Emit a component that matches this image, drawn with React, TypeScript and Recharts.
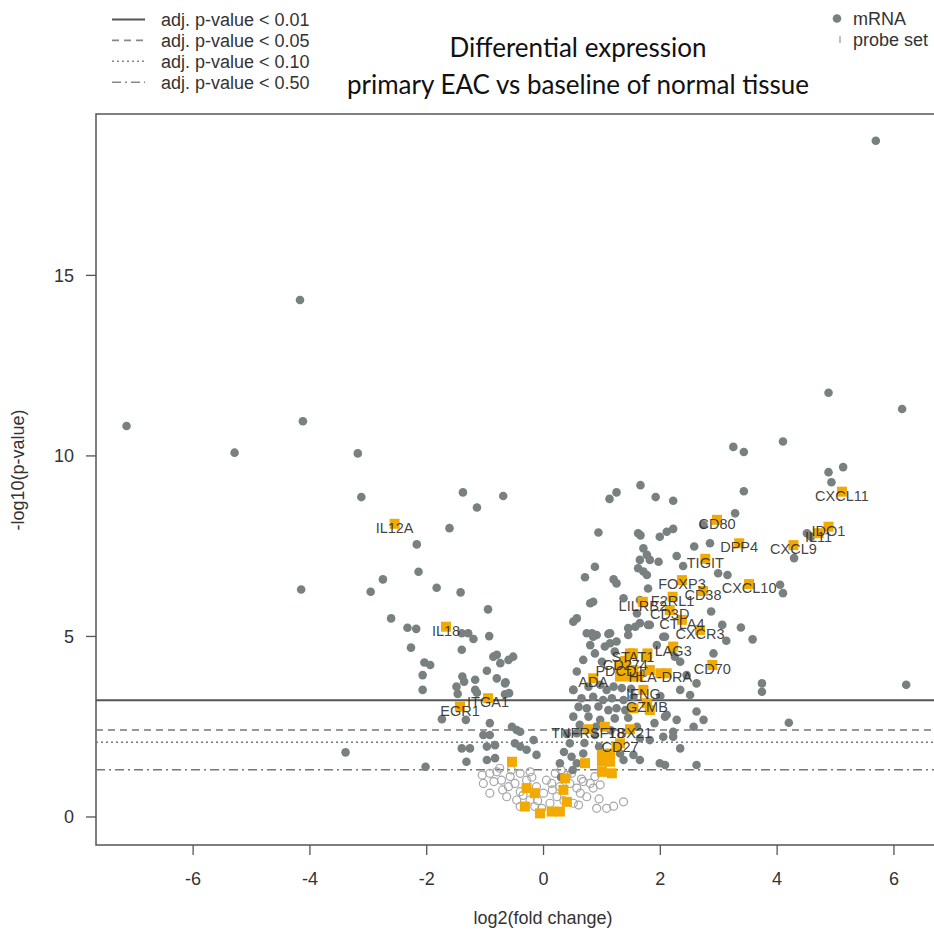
import React from "react";
import {
  ScatterChart,
  Scatter,
  XAxis,
  YAxis,
  ReferenceLine,
  ReferenceArea,
} from "recharts";

// filled grey dots: [log2 fold change, -log10 p]
const mrnaPoints: [number, number][] = [
  [5.69, 18.73], [-4.17, 14.32], [4.88, 11.75], [6.14, 11.3], [-4.12, 10.96], [-7.14, 10.83],
  [4.1, 10.4], [3.25, 10.25], [3.43, 10.11], [-5.29, 10.09], [-3.18, 10.07], [5.13, 9.69],
  [4.88, 9.55], [4.93, 9.27], [1.66, 9.19], [3.43, 9.02], [1.25, 8.99], [-1.38, 8.99],
  [-0.69, 8.89], [-3.12, 8.86], [1.92, 8.86], [1.13, 8.81], [2.22, 8.76], [-1.14, 8.57],
  [3.28, 8.41], [2.74, 8.09], [-1.61, 8.0], [0.94, 7.88], [1.62, 7.86], [1.66, 7.8],
  [2.11, 7.9], [2.22, 7.98], [1.99, 7.76], [4.51, 7.86], [4.58, 7.76], [-2.17, 7.55],
  [2.85, 7.58], [2.58, 7.49], [1.71, 7.44], [1.77, 7.26], [2.28, 7.23], [4.29, 7.17],
  [1.65, 7.12], [1.82, 7.12], [1.97, 7.07], [2.39, 6.95], [0.88, 6.93], [1.62, 6.89],
  [1.71, 6.8], [2.99, 6.75], [3.15, 6.7], [1.77, 6.7], [-2.14, 6.79], [0.71, 6.64],
  [1.2, 6.58], [-2.75, 6.58], [1.25, 6.47], [4.05, 6.43], [-1.83, 6.35], [1.79, 6.33],
  [-4.15, 6.3], [-2.96, 6.24], [-1.42, 6.22], [4.1, 6.2], [1.37, 6.06], [1.65, 6.01],
  [0.85, 5.96], [0.8, 5.92], [-0.95, 5.75], [2.87, 5.69], [1.6, 5.64], [0.57, 5.5],
  [-2.61, 5.5], [3.06, 5.32], [1.79, 5.32], [3.38, 5.25], [-2.33, 5.24], [1.45, 5.23],
  [-2.18, 5.21], [0.83, 5.09], [1.14, 5.09], [-1.4, 5.09], [-1.29, 5.09], [0.85, 4.99],
  [2.08, 4.99], [-0.93, 5.01], [-1.2, 4.93], [3.58, 4.92], [3.13, 4.88], [-2.27, 4.69],
  [-1.4, 4.63], [2.91, 4.53], [-0.86, 4.44], [-0.8, 4.49], [-0.52, 4.44], [-0.6, 4.35],
  [-2.04, 4.28], [-1.94, 4.21], [-0.74, 4.26], [-0.97, 4.05], [0.57, 4.03], [-2.07, 3.93],
  [-1.39, 3.89], [-0.8, 3.84], [-1.17, 3.8], [-1.36, 3.75], [-0.65, 3.73], [-0.66, 3.7],
  [3.74, 3.7], [6.21, 3.66], [-1.49, 3.61], [-2.07, 3.52], [-1.17, 3.52], [0.51, 3.52],
  [3.74, 3.47], [-1.14, 3.44], [-1.47, 3.41], [-0.59, 3.43], [-0.66, 3.4], [-1.74, 2.71],
  [-1.33, 2.69], [-0.92, 2.6], [4.2, 2.61], [-0.54, 2.5], [-0.46, 2.41], [-0.4, 2.36],
  [-1.03, 2.27], [-0.92, 2.27], [-0.17, 2.13], [-0.49, 2.04], [-0.97, 1.95], [-0.83, 1.99],
  [-0.4, 1.95], [-1.4, 1.9], [-1.26, 1.9], [-0.29, 1.86], [-3.39, 1.79], [-0.12, 1.72],
  [-0.83, 1.63], [-0.97, 1.58], [-1.32, 1.53], [-2.02, 1.39],
  // dense centre
  [0.51, 5.41], [0.74, 5.09], [0.91, 5.04], [1.11, 5.07], [0.8, 4.76], [1.05, 4.72],
  [1.14, 4.81], [1.25, 4.86], [1.45, 5.04], [1.57, 5.27], [1.65, 5.37], [1.82, 5.32],
  [2.05, 4.99], [1.94, 4.76], [2.2, 4.63], [2.34, 4.3], [2.25, 4.44], [0.88, 4.53],
  [0.68, 4.35], [1.0, 4.3], [1.22, 4.58], [0.51, 3.52], [0.77, 3.61], [0.97, 3.66],
  [1.08, 3.52], [1.2, 3.61], [1.34, 3.57], [0.65, 3.29], [0.85, 3.33], [1.02, 3.24],
  [1.17, 3.29], [1.37, 3.24], [1.54, 3.33], [0.74, 3.01], [0.94, 3.06], [1.11, 2.96],
  [1.25, 3.01], [1.4, 2.96], [0.51, 2.78], [0.77, 2.78], [0.97, 2.69], [1.22, 2.73],
  [2.11, 2.83], [2.28, 2.69], [2.62, 2.92], [2.74, 2.69], [2.57, 2.5], [0.57, 2.32],
  [0.88, 2.27], [0.45, 2.04], [0.48, 1.67], [0.68, 1.76], [0.28, 1.49], [0.57, 1.49],
  [1.31, 1.76], [1.37, 1.58], [1.54, 1.72], [1.65, 2.18], [1.82, 2.13], [2.05, 2.22],
  [2.22, 2.22], [2.62, 1.44], [2.34, 1.9], [1.99, 1.49], [1.71, 3.98], [2.34, 3.52],
  [2.62, 3.7], [2.45, 3.93], [2.51, 3.38], [2.08, 2.78], [2.08, 1.44], [1.65, 1.58],
  [2.22, 2.36], [0.62, 2.55], [0.9, 2.5], [1.15, 2.4], [0.4, 2.3], [0.7, 2.05],
  [0.95, 1.95], [0.35, 1.8], [1.6, 2.5], [1.9, 2.6], [1.45, 2.75], [0.3, 1.1],
  [0.5, 1.3], [1.5, 3.55], [2.0, 3.35], [0.6, 3.05],
];

// open circles (not significant)
const openPoints: [number, number][] = [
  [-1.05, 1.16], [-0.92, 1.21], [-0.8, 1.25], [-1.03, 0.93], [-0.72, 1.02], [-0.57, 1.12],
  [-0.4, 1.21], [-0.23, 1.25], [-0.92, 0.66], [-0.6, 0.84], [-0.49, 0.93], [-0.4, 0.7],
  [-0.29, 1.02], [-0.63, 0.56], [-0.46, 0.47], [-0.23, 0.47], [-0.4, 0.29], [-0.15, 0.29],
  [-0.03, 0.24], [0.11, 0.38], [0.23, 0.56], [0.28, 0.84], [0.14, 0.93], [0.45, 0.93],
  [0.57, 0.8], [0.68, 0.98], [0.8, 0.93], [0.88, 1.12], [0.97, 0.89], [0.63, 0.66],
  [0.74, 0.56], [0.51, 0.38], [0.6, 0.33], [0.91, 0.24], [1.08, 0.24], [1.37, 0.42],
  [0.05, 1.02], [0.0, 0.66], [0.48, 1.21], [0.2, 1.21], [0.85, 0.8], [-0.12, 0.84],
  [-0.85, 0.98], [-0.7, 0.75], [-0.35, 0.6], [-0.55, 1.3], [0.35, 0.45], [0.65, 1.05],
  [0.15, 0.75], [-0.2, 1.1], [0.4, 1.15], [1.2, 0.3], [-0.75, 1.35], [0.3, 1.3],
  [0.95, 0.5], [-0.1, 0.45],
];

// orange squares without a label
const setPoints: [number, number][] = [
  [-0.54, 1.53], [0.71, 1.49], [1.0, 1.53], [1.14, 1.53], [1.0, 1.25], [1.17, 1.21],
  [0.37, 1.07], [-0.29, 0.8], [-0.15, 0.66], [0.34, 0.75], [0.4, 0.42], [-0.32, 0.29],
  [-0.06, 0.1], [0.14, 0.15], [0.28, 0.15], [1.25, 1.95], [1.14, 1.76], [1.0, 1.72],
  [1.05, 2.5], [1.82, 2.96], [1.54, 3.01], [1.42, 4.16], [1.54, 4.07], [1.82, 4.07],
  [2.11, 3.98], [1.31, 3.89], [1.48, 3.89], [1.62, 3.89], [1.48, 4.53], [1.77, 4.44],
  [1.78, 4.53],
];

// labelled genes
const geneNames = [
  "IL12A", "IL18", "ITGA1", "EGR1", "CXCL11", "CD80", "IDO1", "IL11", "CXCL9", "DPP4",
  "TIGIT", "FOXP3", "CXCL10", "CD38", "F2RL1", "LILRB2", "CD3D", "CTLA4", "CXCR3", "LAG3",
  "STAT1", "CD70", "ADA", "PDCD1", "CD274", "HLA-DRA", "IFNG", "GZMB", "TNFRSF18", "TBX21", "CD27",
];
const geneFC = [
  -2.55, -1.67, -0.95, -1.43, 5.11, 2.97, 4.88, 4.71, 4.28, 3.35,
  2.77, 2.37, 3.52, 2.73, 2.21, 1.7, 2.16, 2.37, 2.68, 2.22,
  1.53, 2.89, 0.85, 1.31, 1.4, 2.0, 1.71, 1.77, 0.76, 1.48, 1.31,
];
const geneP = [
  8.12, 5.27, 3.29, 3.06, 9.01, 8.23, 8.04, 7.86, 7.53, 7.58,
  7.15, 6.56, 6.45, 6.26, 6.1, 5.96, 5.73, 5.46, 5.18, 4.72,
  4.53, 4.21, 3.84, 4.16, 4.32, 3.98, 3.52, 3.15, 2.43, 2.43, 2.04,
];

const thresholdValues = [3.23, 2.41, 2.07, 1.31];
const thresholdLabels = [
  "adj. p-value < 0.01",
  "adj. p-value < 0.05",
  "adj. p-value < 0.10",
  "adj. p-value < 0.50",
];
const thresholdDash = ["", "7 5", "2 3", "9 4 2 4"];

const xTicks = [-6, -4, -2, 0, 2, 4, 6];
const yTicks = [0, 5, 10, 15];

const X_DOMAIN: [number, number] = [-7.663, 6.96];
const Y_DOMAIN: [number, number] = [-0.776, 19.47];

const GREY = "#78817f";
const ORANGE = "#f2a900";
const FONT = "'Liberation Sans', Arial, sans-serif";

const toData = (pts: [number, number][]) => pts.map(([x, y]) => ({ x, y }));

const GreyDot = (p: any) => <circle cx={p.cx} cy={p.cy} r={4.3} fill={GREY} />;
const OpenDot = (p: any) => (
  <circle cx={p.cx} cy={p.cy} r={4} fill="none" stroke="#a3a7a6" strokeWidth={1.2} />
);
const OrangeSq = (p: any) => (
  <rect x={p.cx - 5} y={p.cy - 5} width={10} height={10} fill={ORANGE} />
);
const GeneLabel = (p: any) => (
  <text
    x={p.cx}
    y={p.cy + 4}
    dy="0.35em"
    textAnchor="middle"
    fontFamily={FONT}
    fontSize={14.5}
    fill="#2b2b2b"
    fillOpacity={0.9}
  >
    {p.payload.name}
  </text>
);

export default function App() {
  const geneData = geneNames.map((name, i) => ({ name, x: geneFC[i], y: geneP[i] }));

  return (
    <div
      style={{
        position: "absolute",
        left: 0,
        top: 0,
        width: 934,
        height: 934,
        overflow: "hidden",
        background: "#fff",
        fontFamily: FONT,
      }}
    >
      <ScatterChart
        width={960}
        height={934}
        margin={{ top: 114, right: 10, bottom: 29, left: 36 }}
      >
        <XAxis
          type="number"
          dataKey="x"
          domain={X_DOMAIN}
          ticks={xTicks}
          allowDataOverflow
          axisLine={false}
          tickSize={10}
          tickMargin={17}
          height={60}
          tickLine={{ stroke: "#555", strokeWidth: 1.3 }}
          tick={{ fill: "#333", fontSize: 18, fontFamily: FONT }}
        />
        <YAxis
          type="number"
          dataKey="y"
          domain={Y_DOMAIN}
          ticks={yTicks}
          allowDataOverflow
          axisLine={false}
          tickSize={10}
          tickMargin={12}
          width={60}
          tickLine={{ stroke: "#555", strokeWidth: 1.3 }}
          tick={{ fill: "#333", fontSize: 18, fontFamily: FONT }}
        />
        <ReferenceArea
          x1={X_DOMAIN[0]}
          x2={X_DOMAIN[1]}
          y1={Y_DOMAIN[0]}
          y2={Y_DOMAIN[1]}
          fill="none"
          stroke="#555"
          strokeWidth={1.5}
        />
        {thresholdValues.map((v, i) => (
          <ReferenceLine
            key={v}
            y={v}
            stroke={i === 0 ? "#555" : "#777"}
            strokeWidth={i === 0 ? 2 : 1.6}
            strokeDasharray={thresholdDash[i]}
          />
        ))}
        <Scatter data={toData(openPoints)} shape={OpenDot} isAnimationActive={false} />
        <Scatter data={toData(mrnaPoints)} shape={GreyDot} isAnimationActive={false} />
        <Scatter data={toData(setPoints)} shape={OrangeSq} isAnimationActive={false} />
        <Scatter data={geneData} shape={OrangeSq} isAnimationActive={false} />
        <Scatter data={geneData} shape={GeneLabel} isAnimationActive={false} />
      </ScatterChart>

      <svg
        width={934}
        height={934}
        style={{ position: "absolute", left: 0, top: 0, pointerEvents: "none" }}
      >
        {thresholdLabels.map((t, i) => {
          const cy = 19.5 + i * 20.9;
          return (
            <g key={t}>
              <line
                x1={112}
                x2={145}
                y1={cy}
                y2={cy}
                stroke={i === 0 ? "#555" : "#888"}
                strokeWidth={i === 0 ? 2 : 1.6}
                strokeDasharray={thresholdDash[i] ? thresholdDash[i] : undefined}
              />
              <text x={161} y={cy} dy="0.35em" fontFamily={FONT} fontSize={18} fill="#333">
                {t}
              </text>
            </g>
          );
        })}
        <circle cx={837} cy={18.5} r={4.3} fill={GREY} />
        <text x={853} y={18.5} dy="0.35em" fontFamily={FONT} fontSize={18} fill="#333">
          mRNA
        </text>
        <line x1={840} x2={840} y1={36} y2={43} stroke="#aaa" strokeWidth={1.5} />
        <text x={853} y={39.5} dy="0.35em" fontFamily={FONT} fontSize={18} fill="#333">
          probe set
        </text>

        <text x={578} y={48} dy="0.35em" textAnchor="middle" fontFamily="Lato, sans-serif" fontSize={26} fill="#111">
          Differential expression
        </text>
        <text x={578} y={85} dy="0.35em" textAnchor="middle" fontFamily="Lato, sans-serif" fontSize={26} fill="#111">
          primary EAC vs baseline of normal tissue
        </text>

        <text x={543} y={918} dy="0.35em" textAnchor="middle" fontFamily={FONT} fontSize={18} fill="#333">
          log2(fold change)
        </text>
        <text
          x={18}
          y={470}
          dy="0.35em"
          textAnchor="middle"
          fontFamily={FONT}
          fontSize={18}
          fill="#333"
          transform="rotate(-90 18 470)"
        >
          -log10(p-value)
        </text>
      </svg>
    </div>
  );
}
